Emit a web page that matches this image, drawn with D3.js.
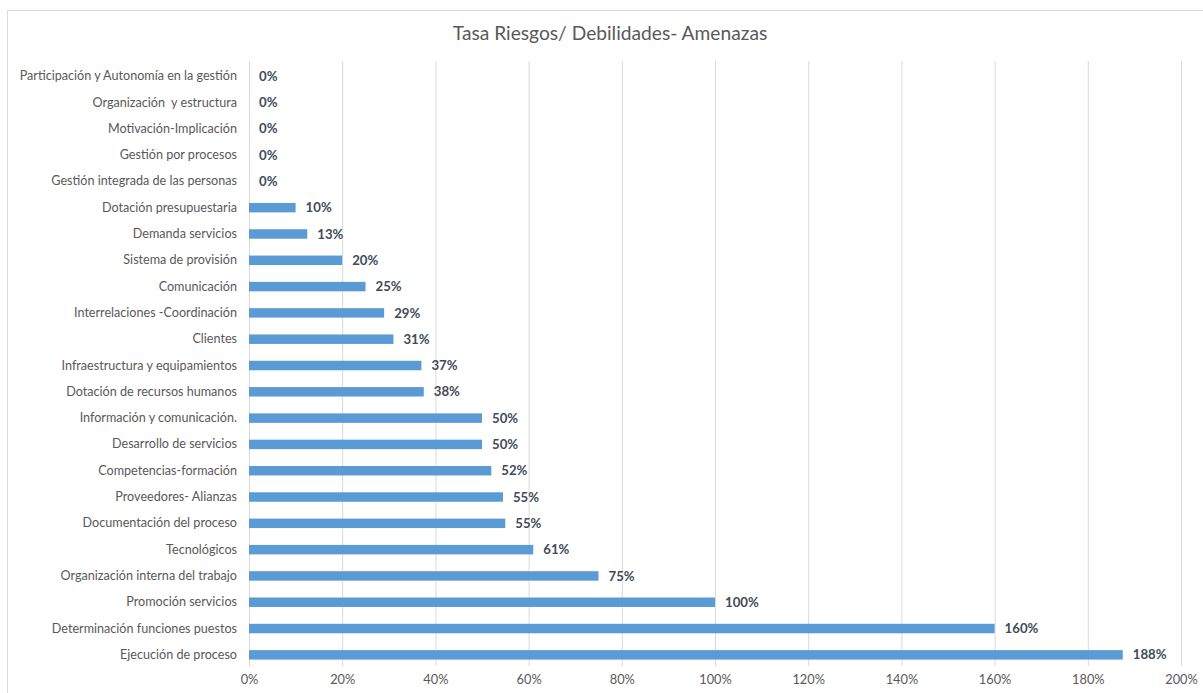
<!DOCTYPE html>
<html>
<head>
<meta charset="utf-8">
<script src="https://cdn.jsdelivr.net/npm/d3@7"></script>
<style>
  body { margin: 0; background: #fff; }
  svg { display: block; font-family: Lato, "Open Sans", sans-serif; }
  text { white-space: pre; }
</style>
</head>
<body>
<div id="chart"></div>
<script>
// categories, top to bottom
const categories = [
    "Participación y Autonomía en la gestión",
    "Organización  y estructura",
    "Motivación-Implicación",
    "Gestión por procesos",
    "Gestión integrada de las personas",
    "Dotación presupuestaria",
    "Demanda servicios",
    "Sistema de provisión",
    "Comunicación",
    "Interrelaciones -Coordinación",
    "Clientes",
    "Infraestructura y equipamientos",
    "Dotación de recursos humanos",
    "Información y comunicación.",
    "Desarrollo de servicios",
    "Competencias-formación",
    "Proveedores- Alianzas",
    "Documentación del proceso",
    "Tecnológicos",
    "Organización interna del trabajo",
    "Promoción servicios",
    "Determinación funciones puestos",
    "Ejecución de proceso"
]

// rates (1 = 100%)
const values = [
    0, 0, 0, 0, 0,
    0.10, 0.125, 0.20, 0.25, 0.29, 0.31, 0.37, 0.375,
    0.50, 0.50, 0.52, 0.545, 0.55, 0.61, 0.75,
    1.00, 1.60, 1.875
]

const tickValues = [0, 0.2, 0.4, 0.6, 0.8, 1.0, 1.2, 1.4, 1.6, 1.8, 2.0]

const data = categories.map((c, i) => ({cat: c, value: values[i]}))

const width = 1203
const height = 693

const svg = d3.select("#chart")
    .append("svg")
    .attr("width", width)
    .attr("height", height)

// chart frame
svg.append("rect")
    .attr("x", 7.5)
    .attr("y", 10.5)
    .attr("width", 1210)
    .attr("height", 700)
    .attr("fill", "none")
    .attr("stroke", "#d9d9d9")

svg.append("text")
    .attr("x", 610)
    .attr("y", 40)
    .attr("text-anchor", "middle")
    .attr("font-size", 19.2)
    .attr("fill", "#595959")
    .text("Tasa Riesgos/ Debilidades- Amenazas")

const xScale = d3.scaleLinear()
    .domain([0, 2])
    .range([249, 1181])

const yScale = d3.scaleBand()
    .domain(categories)
    .range([63, 668])
    .paddingInner(0.64)
    .paddingOuter(0.32)

// gridlines
svg.append("g")
    .selectAll("line")
    .data(tickValues)
    .join("line")
    .attr("x1", d => xScale(d) + 0.5)
    .attr("x2", d => xScale(d) + 0.5)
    .attr("y1", 61)
    .attr("y2", 666)
    .attr("stroke", "#d9d9d9")

const xAxis = d3.axisBottom()
    .scale(xScale)
    .tickValues(tickValues)
    .tickFormat(d3.format(".0%"))
    .tickSize(0)
    .tickPadding(0)

svg.append("g")
    .attr("class", "axis x-axis")
    .attr("transform", "translate(0, 675)")
    .call(xAxis)
    .call(g => g.select(".domain").remove())
    .selectAll("text")
    .attr("font-family", "Lato, sans-serif")
    .attr("font-size", 12.8)
    .attr("fill", "#595959")

const yAxis = d3.axisLeft()
    .scale(yScale)
    .tickSize(0)
    .tickPadding(12)

svg.append("g")
    .attr("class", "axis y-axis")
    .attr("transform", "translate(249, 0)")
    .call(yAxis)
    .call(g => g.select(".domain").remove())
    .selectAll("text")
    .attr("font-family", "Lato, sans-serif")
    .attr("font-size", 12.6)
    .attr("fill", "#595959")

svg.append("g")
    .selectAll("rect")
    .data(data)
    .join("rect")
    .attr("x", xScale(0))
    .attr("y", d => yScale(d.cat))
    .attr("width", d => xScale(d.value) - xScale(0))
    .attr("height", yScale.bandwidth())
    .attr("fill", "#5b9bd5")

svg.append("g")
    .selectAll("text")
    .data(data)
    .join("text")
    .attr("x", d => xScale(d.value) + 10)
    .attr("y", d => yScale(d.cat) + yScale.bandwidth() / 2)
    .attr("dy", "0.35em")
    .attr("font-size", 13.2)
    .attr("font-weight", "bold")
    .attr("fill", "#404b5a")
    .text(d => Math.round(d.value * 100) + "%")
</script>
</body>
</html>
